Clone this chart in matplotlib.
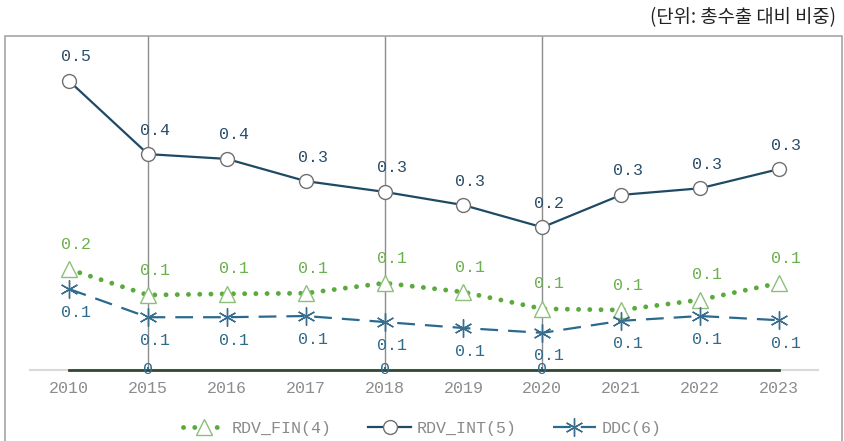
import matplotlib.pyplot as plt
from matplotlib.patches import Rectangle

# Categories (years)
years = ['2010', '2015', '2016', '2017', '2018', '2019', '2020', '2021', '2022', '2023']
# Share of total exports
rdv_fin = [0.168, 0.125, 0.127, 0.128, 0.145, 0.130, 0.102, 0.100, 0.117, 0.145]
rdv_int = [0.482, 0.360, 0.352, 0.315, 0.297, 0.275, 0.238, 0.292, 0.303, 0.335]
ddc = [0.135, 0.088, 0.088, 0.090, 0.080, 0.070, 0.062, 0.082, 0.090, 0.083]
# Years with a vertical marker line (value 0)
marked_years = ['2015', '2018', '2020']
zero_line = [0] * len(years)

mono = 'Liberation Mono'
x = list(range(len(years)))

fig = plt.figure(figsize=(8.44, 4.41), dpi=100)
ax = fig.add_axes([0.0351, 0.161, 0.9346, 0.757])

# Outer frame
fig.patches.append(Rectangle((5 / 844, -0.05), 837 / 844, 0.968, transform=fig.transFigure,
                             fill=False, edgecolor='#a6a6a6', linewidth=1.2))

# Vertical marker lines
for yr in marked_years:
    i = years.index(yr)
    ax.axvline(i, color='#8c8c8c', linewidth=1, zorder=1)
    ax.annotate('0', xy=(i, 0), xytext=(0, 0), textcoords='offset pixels', ha='center', va='center',
                color='#2e6b8f', fontsize=12, family=mono, annotation_clip=False, zorder=6)

ax.plot(x, zero_line, color='#2f4a2f', linewidth=2, zorder=3, clip_on=False)

ax.plot(x, rdv_fin, color='#5aaa3c', linewidth=3.5, linestyle=(0, (0.01, 2.3)),
        dash_capstyle='round', marker='^', markersize=11, markerfacecolor='white',
        markeredgecolor='#8cc07a', markeredgewidth=1, label='RDV_FIN(4)', zorder=4)
ax.plot(x, rdv_int, color='#1f4a66', linewidth=1.6, marker='o', markersize=10,
        markerfacecolor='white', markeredgecolor='#707070', markeredgewidth=1,
        label='RDV_INT(5)', zorder=4)
ax.plot(x, ddc, color='#2a6a8f', linewidth=1.6, linestyle=(0, (8, 4.5)), marker=(6, 2, 0),
        markersize=13, markeredgecolor='#3a6e8f', markeredgewidth=1, label='DDC(6)', zorder=4)

# Data labels
for i in x:
    ax.annotate(f'{rdv_int[i]:.1f}', xy=(i, rdv_int[i]), xytext=(7, 24), textcoords='offset pixels',
                ha='center', va='center', color='#2a4d69', fontsize=12, family=mono)
    ax.annotate(f'{rdv_fin[i]:.1f}', xy=(i, rdv_fin[i]), xytext=(7, 25), textcoords='offset pixels',
                ha='center', va='center', color='#6ab04c', fontsize=12, family=mono)
    ax.annotate(f'{ddc[i]:.1f}', xy=(i, ddc[i]), xytext=(7, -23), textcoords='offset pixels',
                ha='center', va='center', color='#2e6a8c', fontsize=12, family=mono)

ax.set_xlim(-0.5, 9.5)
ax.set_ylim(0, 0.5567)
ax.set_xticks(x)
ax.set_xticklabels(years, family=mono, fontsize=12, color='#8c8c8c')
ax.tick_params(axis='x', length=0, pad=8)
ax.set_yticks([])
for side in ['top', 'left', 'right']:
    ax.spines[side].set_visible(False)
ax.spines['bottom'].set_color('#d9d9d9')
ax.spines['bottom'].set_linewidth(1.5)
ax.patch.set_alpha(0)

leg = fig.legend(loc='center', bbox_to_anchor=(0.5, 1 - 428 / 441), ncol=3, frameon=False,
                 prop={'family': mono, 'size': 12}, handlelength=2.6, columnspacing=2.2,
                 handletextpad=0.3)
for t in leg.get_texts():
    t.set_color('#8a8a8a')

fig.text(836 / 844, 1 - 18 / 441, '(단위: 총수출 대비 비중)', ha='right', va='center',
         fontsize=13.5, family=['Noto Sans CJK KR', 'DejaVu Sans'], color='#222222')

fig.savefig('out.png', dpi=100)
